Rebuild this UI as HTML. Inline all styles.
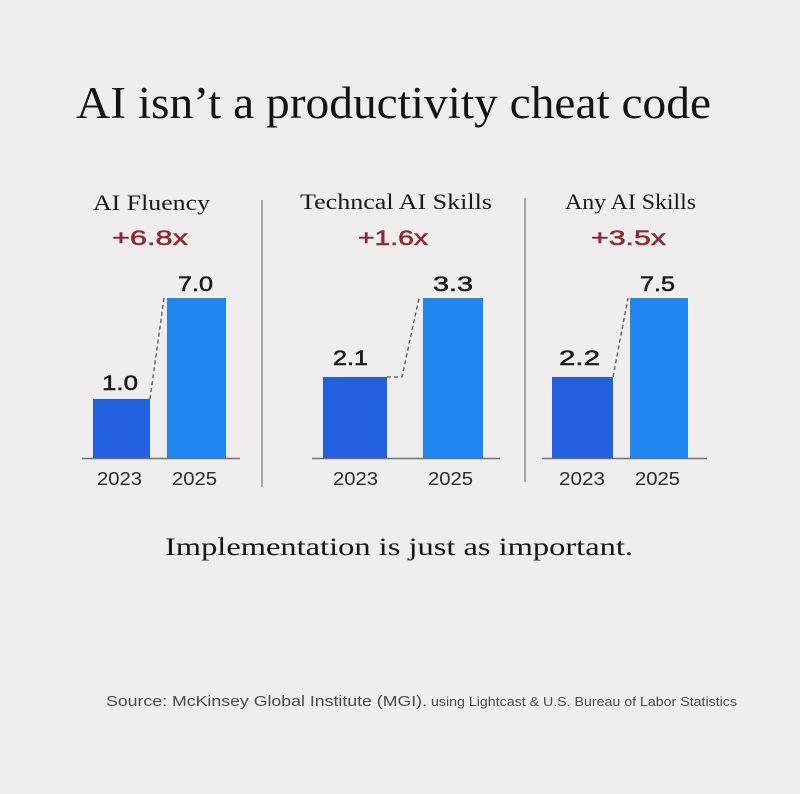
<!DOCTYPE html>
<html>
<head>
<meta charset="utf-8">
<style>
  html,body{margin:0;padding:0;background:#efedee;}
  svg{display:block;}
</style>
</head>
<body>
<svg width="800" height="794" viewBox="0 0 800 794" xmlns="http://www.w3.org/2000/svg">
  <rect x="0" y="0" width="800" height="794" fill="#efedee"/>

  <!-- Title -->
  <text x="76" y="118" font-family="Liberation Serif, serif" font-size="45" fill="#141414" textLength="635" lengthAdjust="spacingAndGlyphs">AI isn’t a productivity cheat code</text>

  <!-- Dividers -->
  <line x1="262" y1="200" x2="262" y2="487" stroke="#7a7a7a" stroke-width="1.2"/>
  <line x1="525" y1="198" x2="525" y2="482" stroke="#7a7a7a" stroke-width="1.2"/>

  <!-- Panel headers -->
  <g font-family="Liberation Serif, serif" font-size="22" fill="#1a1a1a">
    <text x="93" y="210" textLength="117" lengthAdjust="spacingAndGlyphs">AI Fluency</text>
    <text x="300" y="209" textLength="192" lengthAdjust="spacingAndGlyphs">Techncal AI Skills</text>
    <text x="565" y="209" textLength="131" lengthAdjust="spacingAndGlyphs">Any AI Skills</text>
  </g>

  <!-- Multipliers -->
  <g font-family="Liberation Sans, sans-serif" font-size="21" fill="#8e2b2e" stroke="#8e2b2e" stroke-width="0.5">
    <text x="112" y="245" textLength="76" lengthAdjust="spacingAndGlyphs">+6.8x</text>
    <text x="358" y="245" textLength="70" lengthAdjust="spacingAndGlyphs">+1.6x</text>
    <text x="591" y="245" textLength="75" lengthAdjust="spacingAndGlyphs">+3.5x</text>
  </g>

  <!-- Bars -->
  <rect x="93" y="399" width="57" height="59" fill="#2360e0"/>
  <rect x="167" y="298" width="59" height="160" fill="#1f87ef"/>
  <rect x="323" y="377" width="64" height="81" fill="#2360e0"/>
  <rect x="423" y="298" width="60" height="160" fill="#1f87ef"/>
  <rect x="552" y="377" width="61" height="81" fill="#2360e0"/>
  <rect x="630" y="298" width="58" height="160" fill="#1f87ef"/>

  <!-- Axes -->
  <g stroke="#6f6f6f" stroke-width="1.5">
    <line x1="82" y1="458.5" x2="240" y2="458.5"/>
    <line x1="312" y1="458.5" x2="500" y2="458.5"/>
    <line x1="542" y1="458.5" x2="707" y2="458.5"/>
  </g>

  <!-- Dashed connectors -->
  <g stroke="#555" stroke-width="1.3" stroke-dasharray="4 3" fill="none">
    <line x1="150" y1="399" x2="164" y2="298"/>
    <polyline points="387,377 402,377 419,298"/>
    <line x1="613" y1="377" x2="628" y2="298"/>
  </g>

  <!-- Value labels -->
  <g font-family="Liberation Sans, sans-serif" font-size="21" fill="#1a1a1a" stroke="#1a1a1a" stroke-width="0.5">
    <text x="178" y="291" textLength="35" lengthAdjust="spacingAndGlyphs">7.0</text>
    <text x="102" y="390" textLength="36" lengthAdjust="spacingAndGlyphs">1.0</text>
    <text x="433" y="291" textLength="40" lengthAdjust="spacingAndGlyphs">3.3</text>
    <text x="333" y="365" textLength="35" lengthAdjust="spacingAndGlyphs">2.1</text>
    <text x="640" y="291" textLength="35" lengthAdjust="spacingAndGlyphs">7.5</text>
    <text x="559" y="365" textLength="41" lengthAdjust="spacingAndGlyphs">2.2</text>
  </g>

  <!-- Year labels -->
  <g font-family="Liberation Sans, sans-serif" font-size="18" fill="#2a2a2a">
    <text x="97" y="485" textLength="45" lengthAdjust="spacingAndGlyphs">2023</text>
    <text x="172" y="485" textLength="45" lengthAdjust="spacingAndGlyphs">2025</text>
    <text x="333" y="485" textLength="45" lengthAdjust="spacingAndGlyphs">2023</text>
    <text x="428" y="485" textLength="45" lengthAdjust="spacingAndGlyphs">2025</text>
    <text x="559" y="485" textLength="46" lengthAdjust="spacingAndGlyphs">2023</text>
    <text x="635" y="485" textLength="45" lengthAdjust="spacingAndGlyphs">2025</text>
  </g>

  <!-- Subtitle -->
  <text x="165" y="555" font-family="Liberation Serif, serif" font-size="25" fill="#161616" textLength="468" lengthAdjust="spacingAndGlyphs">Implementation is just as important.</text>

  <!-- Source -->
  <text x="106" y="706" font-family="Liberation Sans, sans-serif" font-size="15" fill="#4a4a4a" textLength="321" lengthAdjust="spacingAndGlyphs">Source: McKinsey Global Institute (MGI).</text>
  <text x="431" y="706" font-family="Liberation Sans, sans-serif" font-size="13" fill="#4a4a4a" textLength="306" lengthAdjust="spacingAndGlyphs">using Lightcast &amp; U.S. Bureau of Labor Statistics</text>
</svg>
</body>
</html>
